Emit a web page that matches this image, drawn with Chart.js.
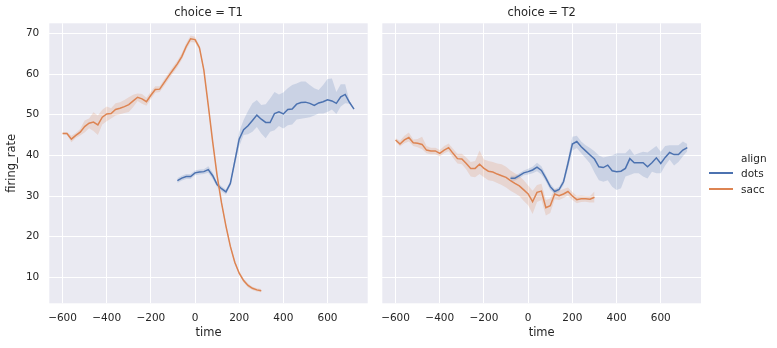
<!DOCTYPE html>
<html>
<head>
<meta charset="utf-8">
<script src="https://cdn.jsdelivr.net/npm/chart.js"></script>
<style>
  html, body { margin: 0; padding: 0; background: #fff; }
  #wrap { position: relative; width: 777px; height: 348px; overflow: hidden; font-family: 'DejaVu Sans', sans-serif; color: #262626; }
  .panel { position: absolute; top: 0; }
  .leg { position: absolute; left: 741px; font-size: 10.5px; line-height: 14px; white-space: nowrap; }
  .swatch { position: absolute; left: 709px; width: 24px; height: 2px; }
</style>
</head>
<body>
<div id="wrap">
  <canvas id="panelT1" class="panel" width="370" height="348" style="left:0px"></canvas>
  <canvas id="panelT2" class="panel" width="407" height="348" style="left:370px"></canvas>
  <div class="leg" style="top:151px">align</div>
  <div class="swatch" style="top:172px; background:#4C72B0"></div>
  <div class="leg" style="top:166px">dots</div>
  <div class="swatch" style="top:188px; background:#DD8452"></div>
  <div class="leg" style="top:182px">sacc</div>
</div>
<script>
// time points (ms)
const saccTime = [-600, -580, -560, -540, -520, -500, -480, -460, -440, -420, -400, -380, -360, -340, -320, -300,
  -280, -260, -240, -220, -200, -180, -160, -140, -120, -100, -80, -60, -40, -20, 0, 20, 40, 60, 80, 100,
  120, 140, 160, 180, 200, 220, 240, 260, 280, 300];
const dotsTime = [-80, -60, -40, -20, 0, 20, 40, 60, 80, 100, 120, 140, 160, 180, 200, 220, 240, 260, 280, 300,
  320, 340, 360, 380, 400, 420, 440, 460, 480, 500, 520, 540, 560, 580, 600, 620, 640, 660, 680, 700, 720];

// choice = T1
const t1Sacc = [45.4, 45.4, 44.0, 44.9, 45.7, 47.1, 47.9, 48.2, 47.5, 49.4, 50.2, 50.3, 51.3, 51.6, 52.0, 52.5,
  53.4, 54.3, 53.9, 53.2, 54.8, 56.2, 56.3, 57.9, 59.5, 61.0, 62.5, 64.3, 66.8, 68.7, 68.5, 66.5, 61.0, 52.3, 43.3, 35.0,
  28.3, 22.6, 17.6, 13.7, 11.0, 9.2, 8.0, 7.3, 6.9, 6.7];
const t1SaccLo = [45.2, 45.1, 43.2, 44.3, 44.9, 45.6, 46.7, 46.0, 45.0, 47.6, 48.4, 49.1, 49.8, 50.1, 50.4, 50.7,
  51.9, 53.4, 52.7, 52.2, 53.9, 55.4, 55.6, 57.1, 58.7, 60.2, 61.7, 63.5, 66.0, 67.9, 67.8, 65.9, 60.5, 51.8, 42.8, 34.5,
  27.8, 22.1, 17.1, 13.2, 10.5, 8.7, 7.5, 6.9, 6.5, 6.3];
const t1SaccHi = [45.6, 45.7, 44.8, 45.5, 46.5, 48.6, 49.1, 50.6, 49.8, 51.2, 52.0, 51.6, 52.8, 53.1, 53.6, 54.3,
  54.9, 55.2, 55.1, 54.2, 55.7, 57.0, 57.0, 58.7, 60.3, 61.8, 63.3, 65.1, 67.6, 69.5, 69.2, 67.1, 61.5, 52.8, 43.8, 35.5,
  28.8, 23.1, 18.1, 14.2, 11.5, 9.7, 8.5, 7.7, 7.3, 7.1];
const t1Dots = [33.8, 34.4, 34.8, 34.8, 35.7, 35.9, 36.0, 36.5, 35.0, 32.8, 31.8, 31.0, 33.1, 38.5, 44.0, 46.3,
  47.3, 48.6, 49.9, 48.9, 48.1, 48.1, 50.3, 50.7, 50.2, 51.3, 51.4, 52.6, 53.0, 53.1, 52.8, 52.3, 52.9, 53.2,
  53.7, 53.4, 52.8, 54.4, 55.0, 53.0, 51.4];
const t1DotsLo = [33.2, 33.8, 34.2, 34.2, 35.1, 35.3, 35.4, 35.7, 34.2, 32.2, 31.2, 30.4, 32.5, 37.5, 42.2, 45.0,
  45.2, 45.8, 47.0, 45.4, 44.2, 45.8, 46.2, 47.2, 46.6, 47.4, 47.6, 48.8, 49.0, 49.2, 49.4, 49.8, 50.3, 50.3,
  50.7, 51.3, 50.2, 52.0, 52.8, 52.7, 51.4];
const t1DotsHi = [34.4, 35.0, 35.4, 35.4, 36.3, 36.5, 36.6, 37.3, 35.8, 33.4, 32.4, 31.6, 33.7, 39.5, 45.8, 48.7,
  50.9, 52.8, 53.6, 52.4, 52.6, 54.0, 55.6, 55.0, 55.5, 56.5, 57.3, 57.7, 58.2, 58.2, 57.3, 56.5, 56.1, 57.3,
  58.8, 58.9, 55.6, 57.5, 57.5, 53.3, 51.4];

// choice = T2
const t2Sacc = [43.8, 42.8, 43.8, 44.4, 43.1, 43.0, 42.7, 41.3, 41.1, 41.1, 40.5, 41.3, 41.9, 40.5, 39.2, 39.1,
  38.0, 36.8, 36.8, 37.8, 36.8, 36.1, 35.9, 35.4, 35.0, 34.6, 33.8, 33.1, 32.5, 31.5, 30.5, 28.6, 30.9, 31.2, 27.1, 27.6,
  30.5, 30.1, 30.5, 31.1, 30.0, 29.1, 29.3, 29.3, 29.2, 29.7];
const t2SaccLo = [43.4, 42.2, 43.0, 43.4, 42.3, 42.0, 41.5, 40.5, 40.3, 40.3, 39.7, 40.5, 41.0, 39.4, 38.0, 37.8,
  36.5, 34.8, 34.6, 35.4, 34.6, 33.9, 33.7, 33.2, 32.7, 32.1, 31.3, 30.7, 30.0, 28.8, 27.7, 25.6, 28.5, 29.0, 25.2, 25.8,
  29.2, 29.0, 29.5, 30.1, 29.0, 28.2, 28.5, 28.6, 28.4, 28.4];
const t2SaccHi = [44.2, 43.6, 44.8, 45.6, 43.9, 44.0, 44.6, 42.3, 41.9, 41.9, 41.3, 42.3, 42.9, 41.6, 40.4, 40.4,
  39.5, 38.4, 38.6, 41.2, 39.0, 38.6, 38.4, 38.0, 37.8, 37.2, 36.3, 35.6, 34.9, 33.9, 32.6, 31.3, 32.7, 33.0, 29.0, 29.4,
  31.8, 31.3, 31.7, 32.1, 31.0, 30.0, 30.1, 30.0, 30.0, 31.1];
const t2Dots = [34.4, 34.4, 35.0, 35.7, 36.0, 36.4, 37.1, 36.3, 34.4, 32.3, 31.1, 31.6, 33.5, 38.0, 42.8, 43.4,
  42.1, 41.1, 40.1, 39.1, 37.2, 37.0, 37.6, 36.2, 36.0, 36.1, 36.8, 39.2, 38.2, 38.2, 38.2, 37.2, 38.2, 39.4,
  38.0, 39.5, 40.7, 40.2, 40.2, 41.3, 41.9];
const t2DotsLo = [33.7, 33.8, 34.4, 35.1, 35.3, 35.6, 36.1, 35.3, 33.6, 31.5, 30.5, 31.0, 32.7, 36.8, 41.2, 41.8,
  40.5, 39.3, 38.0, 35.8, 33.9, 33.5, 33.9, 32.3, 31.5, 31.9, 34.8, 35.2, 35.6, 35.6, 34.8, 34.3, 36.0, 35.6,
  35.6, 37.5, 39.0, 37.5, 38.4, 39.8, 41.0];
const t2DotsHi = [35.0, 35.0, 35.6, 36.3, 36.7, 37.2, 38.2, 37.3, 35.2, 33.1, 31.7, 32.2, 34.3, 39.2, 44.6, 44.8,
  43.4, 42.5, 41.8, 41.0, 40.0, 39.5, 39.7, 40.0, 40.5, 40.5, 40.5, 41.6, 40.1, 40.5, 40.9, 40.7, 41.5, 42.3,
  40.9, 42.3, 42.5, 42.5, 42.5, 43.4, 42.8];

const xTicks = [-600, -400, -200, 0, 200, 400, 600];
const yTicks = [10, 20, 30, 40, 50, 60, 70];

const BLUE = '#4C72B0';
const ORANGE = '#DD8452';
const FONT = "'DejaVu Sans', sans-serif";
const TEXT = '#262626';

function pts(xs, ys) {
  return xs.map((x, i) => ({ x: x, y: ys[i] }));
}

function lineSet(xs, ys, color) {
  return { data: pts(xs, ys), borderColor: color, borderWidth: 1.5, pointRadius: 0, fill: false, tension: 0 };
}

function bandSet(xs, ys, fill, color) {
  return { data: pts(xs, ys), borderWidth: 0, pointRadius: 0, fill: fill, backgroundColor: color, tension: 0 };
}

const plotBg = {
  id: 'plotBg',
  beforeDraw(chart) {
    const a = chart.chartArea;
    const ctx = chart.ctx;
    ctx.save();
    ctx.fillStyle = '#EAEAF2';
    ctx.fillRect(a.left, a.top, a.right - a.left, a.bottom - a.top);
    ctx.restore();
  }
};

function makePanel(id, title, dots, dotsLo, dotsHi, sacc, saccLo, saccHi, showY) {
  const datasets = [
    lineSet(saccTime, sacc, ORANGE),
    lineSet(dotsTime, dots, BLUE),
    bandSet(saccTime, saccLo, false, 'rgba(0,0,0,0)'),
    bandSet(saccTime, saccHi, 2, 'rgba(221,132,82,0.2)'),
    bandSet(dotsTime, dotsLo, false, 'rgba(0,0,0,0)'),
    bandSet(dotsTime, dotsHi, 4, 'rgba(76,114,176,0.2)')
  ];

  return new Chart(document.getElementById(id), {
    type: 'line',
    data: { datasets: datasets },
    plugins: [plotBg],
    options: {
      responsive: false,
      animation: false,
      devicePixelRatio: 1,
      layout: { padding: { top: 0, left: 0, bottom: 0, right: showY ? 2.3 : 76 } },
      plugins: {
        legend: { display: false },
        tooltip: { enabled: false },
        title: {
          display: true,
          text: title,
          fullSize: false,
          color: TEXT,
          font: { family: FONT, size: 11.5, weight: 'normal' },
          padding: { top: 6, bottom: 3.5 }
        }
      },
      scales: {
        x: {
          type: 'linear',
          min: -660,
          max: 782,
          afterBuildTicks: s => { s.ticks = xTicks.map(v => ({ value: v })); },
          afterFit: s => { s.height = 44.7; },
          grid: { color: '#ffffff', lineWidth: 1, drawTicks: false },
          border: { display: false },
          ticks: {
            padding: 8.5,
            color: TEXT,
            font: { family: FONT, size: 10.5 },
            maxRotation: 0,
            callback: v => (v < 0 ? '\u2212' + Math.abs(v) : String(v))
          },
          title: {
            display: true,
            text: 'time',
            color: TEXT,
            font: { family: FONT, size: 11.5 },
            padding: { top: 0, bottom: 8 }
          }
        },
        y: {
          type: 'linear',
          min: 3.6,
          max: 72.5,
          afterBuildTicks: s => { s.ticks = yTicks.map(v => ({ value: v })); },
          afterFit: s => { s.width = showY ? 49.3 : 12.3; },
          grid: { color: '#ffffff', lineWidth: 1, drawTicks: false },
          border: { display: false },
          ticks: {
            display: showY,
            padding: 10,
            color: TEXT,
            font: { family: FONT, size: 10.5 }
          },
          title: {
            display: showY,
            text: 'firing_rate',
            color: TEXT,
            font: { family: FONT, size: 11.5 },
            padding: { top: 5, bottom: 0 }
          }
        }
      }
    }
  });
}

makePanel('panelT1', 'choice = T1', t1Dots, t1DotsLo, t1DotsHi, t1Sacc, t1SaccLo, t1SaccHi, true);
makePanel('panelT2', 'choice = T2', t2Dots, t2DotsLo, t2DotsHi, t2Sacc, t2SaccLo, t2SaccHi, false);
</script>
</body>
</html>
